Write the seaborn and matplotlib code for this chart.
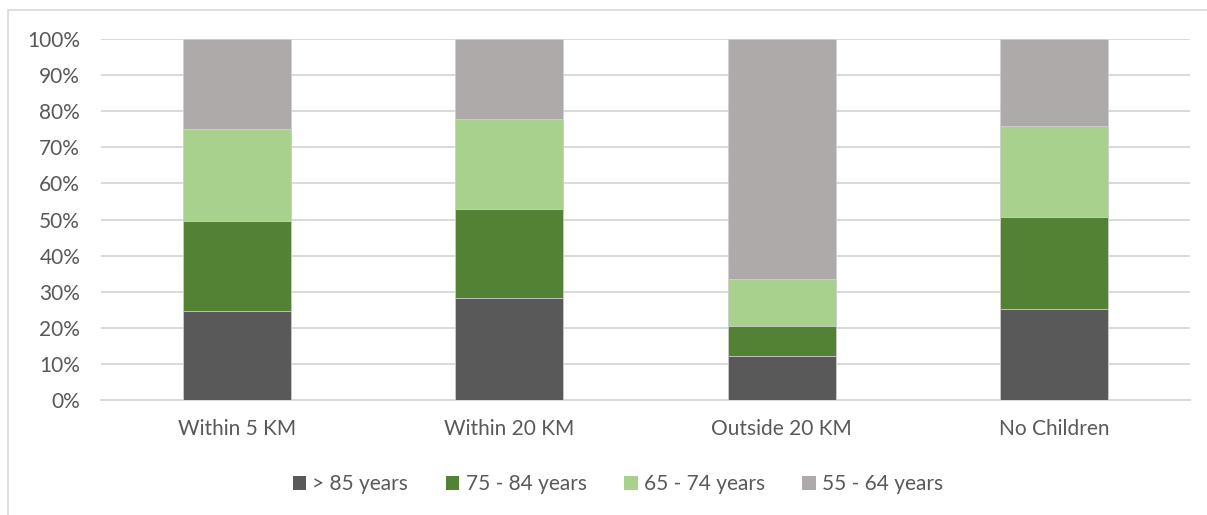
import matplotlib
matplotlib.use("Agg")
import matplotlib.pyplot as plt
from matplotlib.patches import Patch, Rectangle
from matplotlib.ticker import PercentFormatter
import numpy as np
import pandas as pd
import seaborn as sns

# Share of respondents by age group, for each distance to children
categories = ["Within 5 KM", "Within 20 KM", "Outside 20 KM", "No Children"]
series_names = ["> 85 years", "75 - 84 years", "65 - 74 years", "55 - 64 years"]
over_85 = [24.6, 28.2, 12.1, 25.2]
age_75_84 = [25.1, 24.7, 8.5, 25.5]
age_65_74 = [25.3, 24.9, 12.8, 25.1]
age_55_64 = [25.0, 22.2, 66.6, 24.2]
colors = ["#595959", "#548235", "#A9D18E", "#AEAAAA"]

sns.set_theme(style="white")
plt.rcParams["font.family"] = ["Lato", "DejaVu Sans"]
text_color = "#595959"
font_size = 15

values = np.array([over_85, age_75_84, age_65_74, age_55_64])
cumulative = values.cumsum(axis=0)

fig = plt.figure(figsize=(12.07, 5.15), dpi=100)
ax = fig.add_axes([101 / 1207, 1 - 400 / 515, (1190 - 101) / 1207, (400 - 39) / 515])

# Stack by drawing cumulative totals from the top segment down
for i in reversed(range(len(series_names))):
    df = pd.DataFrame({"category": categories, "value": cumulative[i] / 100.0})
    sns.barplot(data=df, x="category", y="value", color=colors[i], width=0.397,
                saturation=1, edgecolor="#d0d0d0", linewidth=0.6, ax=ax, zorder=3)

ax.set_ylim(0, 1)
ax.set_xlim(-0.5, len(categories) - 0.5)
ax.set_yticks(np.linspace(0, 1, 11))
ax.yaxis.set_major_formatter(PercentFormatter(1.0, decimals=0))
ax.grid(axis="y", color="#D9D9D9", linewidth=1.4, zorder=0)
ax.set_axisbelow(True)
for side in ["top", "right", "left"]:
    ax.spines[side].set_visible(False)
ax.spines["bottom"].set_color("#D9D9D9")
ax.spines["bottom"].set_linewidth(1.4)
ax.set_xlabel("")
ax.set_ylabel("")
ax.tick_params(axis="y", length=0, pad=15, labelsize=font_size, labelcolor=text_color)
ax.tick_params(axis="x", length=0, pad=14, labelsize=font_size, labelcolor=text_color)

handles = [Patch(facecolor=c, edgecolor="none") for c in colors]
fig.legend(handles, series_names, loc="center", bbox_to_anchor=(618 / 1207, 1 - 484 / 515),
           ncol=4, frameon=False, fontsize=font_size, labelcolor=text_color,
           handlelength=0.65, handleheight=0.65, handletextpad=0.3, columnspacing=1.8)

# Chart area outline
fig.patches.append(Rectangle((8 / 1207, -0.1), 1.2, 1.1 - 10 / 515, transform=fig.transFigure,
                             fill=False, edgecolor="#D9D9D9", linewidth=1.2))

fig.savefig("out.png", dpi=100, facecolor="white")
